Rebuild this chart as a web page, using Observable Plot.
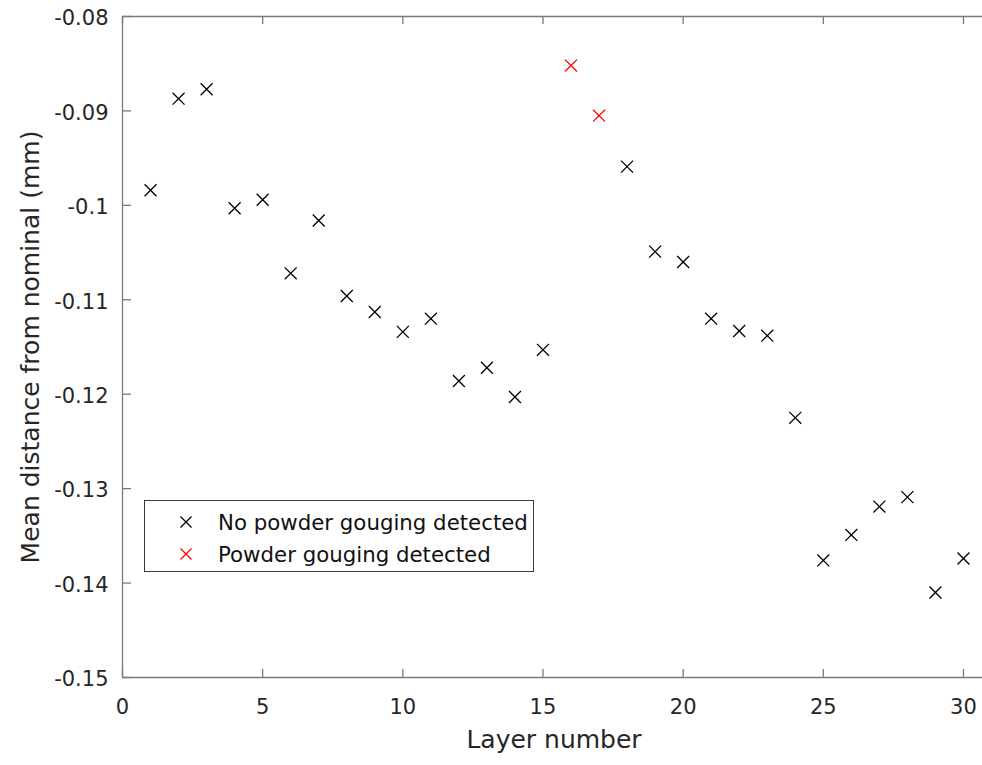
<!DOCTYPE html>
<html>
<head>
<meta charset="utf-8">
<script src="https://cdn.jsdelivr.net/npm/d3@7"></script>
<script src="https://cdn.jsdelivr.net/npm/@observablehq/plot@0.6"></script>
<style>
  html, body { margin: 0; padding: 0; background: #fff; overflow: hidden; }
  #wrap { position: relative; width: 982px; height: 765px; overflow: hidden; font-family: "DejaVu Sans", sans-serif; }
  #chart { position: absolute; left: 0; top: 0; width: 991px; height: 765px; }
  #chart svg { max-width: none !important; display: block; }
  #legend { position: absolute; left: 144px; top: 500px; width: 390px; height: 72px; border: 1px solid #3a3a3a; background: #fff; box-sizing: border-box; }
  .row { position: absolute; left: 0; height: 30px; display: flex; align-items: center; }
  .row svg { position: absolute; left: 34px; }
  .row span { position: absolute; left: 73px; white-space: nowrap; font-size: 21.3px; color: #111; }
</style>
</head>
<body>
<div id="wrap">
  <div id="chart"></div>
  <div id="legend"></div>
</div>
<script>
// ---- data ----
const layers = [1,2,3,4,5,6,7,8,9,10,11,12,13,14,15,16,17,18,19,20,21,22,23,24,25,26,27,28,29,30];
const meanDistance = [-0.0984,-0.0887,-0.0877,-0.1003,-0.0994,-0.1072,-0.1016,-0.1096,-0.1113,-0.1134,
                      -0.1120,-0.1186,-0.1172,-0.1203,-0.1153,-0.0852,-0.0905,-0.0959,-0.1049,-0.1060,
                      -0.1120,-0.1133,-0.1138,-0.1225,-0.1376,-0.1349,-0.1319,-0.1309,-0.1410,-0.1374];
const gougingLayers = [16, 17];
const xTicks = [0, 5, 10, 15, 20, 25, 30];
const yTicks = [-0.15, -0.14, -0.13, -0.12, -0.11, -0.1, -0.09, -0.08];
const seriesNames = ["No powder gouging detected", "Powder gouging detected"];
const seriesColors = ["#000000", "#ff0000"];
const xLabel = "Layer number";
const yLabel = "Mean distance from nominal (mm)";

const data = layers.map((l, i) => ({layer: l, value: meanDistance[i], gouging: gougingLayers.includes(l)}));

const W = 991, H = 765, mL = 122, mT = 16, mB = 88, mR = 0;
const innerW = W - mL - mR, innerH = H - mT - mB;
const axisColor = "#7a7a7a", textColor = "#262626";
const fmt = d => String(+d.toFixed(2));

const chart = Plot.plot({
  width: W, height: H,
  marginLeft: mL, marginTop: mT, marginBottom: mB, marginRight: mR,
  style: { fontFamily: '"DejaVu Sans", sans-serif', background: "white", maxWidth: "none" },
  x: { domain: [0, 31] },
  y: { domain: [-0.15, -0.08] },
  marks: [
    Plot.ruleX([0], { stroke: axisColor, strokeWidth: 1.3 }),
    Plot.ruleY([-0.15, -0.08], { stroke: axisColor, strokeWidth: 1.3 }),
    Plot.ruleX(xTicks, { x: d => d, insetTop: innerH - 8, stroke: axisColor, strokeWidth: 1.3 }),
    Plot.ruleX(xTicks, { x: d => d, insetBottom: innerH - 8, stroke: axisColor, strokeWidth: 1.3 }),
    Plot.ruleY(yTicks, { y: d => d, insetRight: innerW - 9, stroke: axisColor, strokeWidth: 1.3 }),
    Plot.axisX(xTicks, { tickSize: 0, tickPadding: 22, fontSize: 21, fill: textColor, label: null, tickFormat: d => String(d) }),
    Plot.axisY(yTicks, { tickSize: 0, tickPadding: 14, dy: 2, fontSize: 21, fill: textColor, label: null, tickFormat: fmt }),
    Plot.text([xLabel], { text: d => d, frameAnchor: "bottom", dx: -3, dy: 70, fontSize: 25, fill: textColor }),
    Plot.text([yLabel], { text: d => d, frameAnchor: "left", textAnchor: "middle", rotate: -90, dx: -92, fontSize: 25, fill: textColor }),
    Plot.dot(data.filter(d => !d.gouging), { x: "layer", y: "value", symbol: "times", r: 5.5, stroke: seriesColors[0], strokeWidth: 1.3 }),
    Plot.dot(data.filter(d => d.gouging), { x: "layer", y: "value", symbol: "times", r: 5.5, stroke: seriesColors[1], strokeWidth: 1.3 })
  ]
});
document.getElementById("chart").appendChild(chart);

// legend
const legend = document.getElementById("legend");
seriesNames.forEach((name, i) => {
  const row = document.createElement("div");
  row.className = "row";
  row.style.top = (6 + i * 32) + "px";
  row.innerHTML = `<svg width="14" height="14" viewBox="-7 -7 14 14"><path d="M-5.5,-5.5L5.5,5.5M-5.5,5.5L5.5,-5.5" stroke="${seriesColors[i]}" stroke-width="1.3" fill="none"/></svg><span>${name}</span>`;
  legend.appendChild(row);
});
</script>
</body>
</html>
